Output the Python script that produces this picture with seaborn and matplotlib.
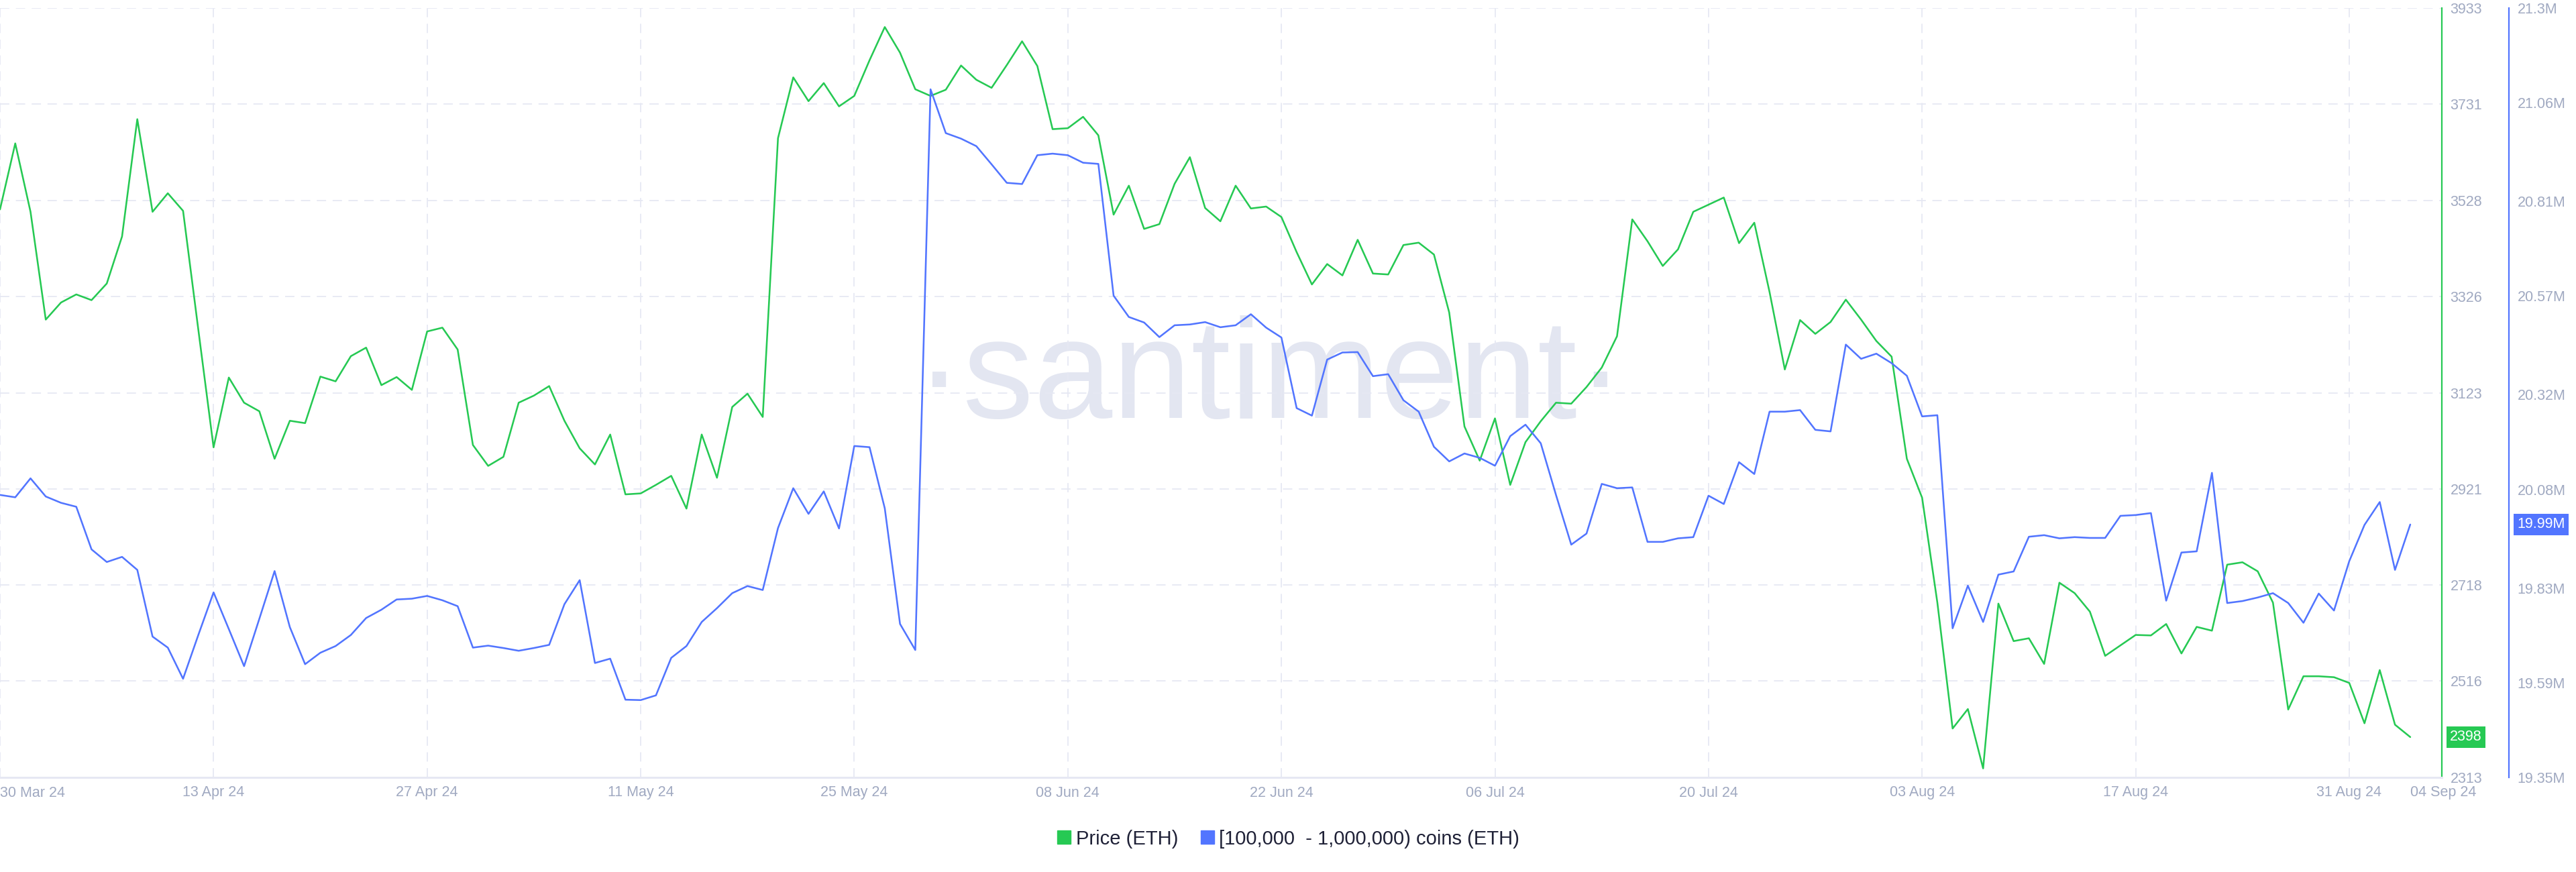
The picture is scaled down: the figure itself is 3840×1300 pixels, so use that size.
import numpy as np
import pandas as pd
import matplotlib
matplotlib.use("Agg")
import matplotlib.pyplot as plt
import matplotlib.dates as mdates
import matplotlib.ticker as mticker
import matplotlib.transforms as mtransforms
from matplotlib.lines import Line2D
import seaborn as sns

# ---------------- data ----------------
start_date = "2024-03-30"
series_names = ["Price (ETH)", "[100,000  - 1,000,000) coins (ETH)"]

price_eth = [
    3509, 3648, 3504, 3277, 3313, 3330, 3318, 3353, 3452, 3699,
    3504, 3543, 3506, 3256, 3008, 3155, 3102, 3084, 2984, 3064,
    3059, 3157, 3147, 3200, 3218, 3139, 3156, 3129, 3252, 3260,
    3214, 3013, 2969, 2988, 3102, 3117, 3137, 3064, 3006, 2972,
    3035, 2909, 2911, 2929, 2948, 2879, 3035, 2944, 3093, 3121,
    3072, 3659, 3787, 3737, 3775, 3726, 3748, 3823, 3893, 3839,
    3762, 3748, 3761, 3812, 3782, 3765, 3813, 3863, 3811, 3678,
    3680, 3704, 3665, 3498, 3559, 3468, 3478, 3563, 3619, 3512,
    3484, 3559, 3511, 3515, 3493, 3419, 3351, 3394, 3370, 3445,
    3374, 3372, 3434, 3439, 3414, 3292, 3052, 2980, 3069, 2929,
    3019, 3063, 3102, 3100, 3135, 3176, 3242, 3488, 3442, 3390,
    3425, 3504, 3519, 3534, 3438, 3481, 3335, 3172, 3276, 3247,
    3272, 3319, 3277, 3232, 3199, 2984, 2902, 2681, 2416, 2457,
    2332, 2679, 2600, 2606, 2552, 2723, 2701, 2662, 2569, 2591,
    2613, 2612, 2636, 2574, 2630, 2622, 2761, 2766, 2747, 2681,
    2456, 2526, 2526, 2524, 2512, 2427, 2539, 2424, 2398,
]

holders_m = [
    20.066, 20.060, 20.108, 20.062, 20.046, 20.036, 19.928, 19.896, 19.909, 19.876,
    19.707, 19.679, 19.600, 19.711, 19.819, 19.726, 19.632, 19.752, 19.873, 19.731,
    19.637, 19.666, 19.683, 19.711, 19.754, 19.775, 19.801, 19.803, 19.810, 19.799,
    19.784, 19.679, 19.684, 19.678, 19.671, 19.678, 19.686, 19.789, 19.850, 19.640,
    19.651, 19.547, 19.546, 19.558, 19.653, 19.683, 19.744, 19.779, 19.817, 19.835,
    19.825, 19.982, 20.083, 20.018, 20.075, 19.981, 20.190, 20.187, 20.032, 19.739,
    19.673, 21.094, 20.983, 20.969, 20.950, 20.904, 20.857, 20.854, 20.927, 20.931,
    20.927, 20.908, 20.905, 20.571, 20.517, 20.503, 20.466, 20.496, 20.498, 20.504,
    20.491, 20.496, 20.524, 20.490, 20.465, 20.286, 20.267, 20.409, 20.427, 20.428,
    20.367, 20.372, 20.306, 20.277, 20.188, 20.151, 20.171, 20.160, 20.140, 20.215,
    20.244, 20.197, 20.066, 19.940, 19.968, 20.094, 20.083, 20.085, 19.947, 19.947,
    19.956, 19.959, 20.064, 20.043, 20.149, 20.119, 20.277, 20.277, 20.281, 20.231,
    20.227, 20.447, 20.411, 20.424, 20.400, 20.368, 20.265, 20.268, 19.728, 19.836,
    19.744, 19.864, 19.872, 19.960, 19.964, 19.956, 19.959, 19.957, 19.957, 20.013,
    20.015, 20.020, 19.798, 19.920, 19.923, 20.122, 19.792, 19.797, 19.806, 19.817,
    19.792, 19.742, 19.816, 19.773, 19.898, 19.990, 20.048, 19.876, 19.991,
]

price_ticks = [2313, 2516, 2718, 2921, 3123, 3326, 3528, 3731, 3933]
holder_ticks = [19.35, 19.59, 19.83, 20.08, 20.32, 20.57, 20.81, 21.06, 21.3]
holder_tick_labels = ["19.35M", "19.59M", "19.83M", "20.08M", "20.32M",
                      "20.57M", "20.81M", "21.06M", "21.3M"]
date_ticks = ["2024-03-30", "2024-04-13", "2024-04-27", "2024-05-11",
              "2024-05-25", "2024-06-08", "2024-06-22", "2024-07-06",
              "2024-07-20", "2024-08-03", "2024-08-17", "2024-08-31"]
end_tick = "2024-09-04"
watermark = "\u00b7santiment\u00b7"

# ---------------- style ----------------
GREEN = "#26c953"
BLUE = "#5275ff"
GRID = "#e6e8f3"
TICKC = "#a0a9c1"
LEGC = "#1f2137"
TICKFS = 15.5

sns.set_theme(style="white")
plt.rcParams["font.family"] = ["Liberation Sans", "DejaVu Sans"]
plt.rcParams["lines.scale_dashes"] = False

dates = pd.date_range(start_date, periods=len(price_eth), freq="D")
df = pd.DataFrame({"date": dates, "price": price_eth, "holders": holders_m})

W, H = 3840, 1300
fig = plt.figure(figsize=(W / 100, H / 100), dpi=100)
left_px, right_px, top_px, bot_px = 0, 3640, 12, 1159
ax = fig.add_axes([left_px / W, 1 - bot_px / H,
                   (right_px - left_px) / W, (bot_px - top_px) / H])
ax.set_facecolor("white")

# watermark
ax.text(0.52, 0.515, watermark, transform=ax.transAxes, ha="center", va="center",
        fontsize=152, color="#e3e6f1", zorder=0.5)

sns.lineplot(data=df, x="date", y="price", ax=ax, color=GREEN, linewidth=1.85,
             zorder=3, legend=False)

ax2 = ax.twinx()
sns.lineplot(data=df, x="date", y="holders", ax=ax2, color=BLUE, linewidth=1.85,
             zorder=3, legend=False)

# x axis
x0 = pd.Timestamp(start_date)
ax.set_xlim(x0, x0 + pd.Timedelta(days=160.07))
ax.xaxis.set_major_locator(mticker.FixedLocator(mdates.date2num(pd.to_datetime(date_ticks))))
ax.xaxis.set_major_formatter(mdates.DateFormatter("%d %b %y"))
ax.xaxis.set_minor_locator(mticker.FixedLocator(mdates.date2num(pd.to_datetime([end_tick]))))
ax.xaxis.set_minor_formatter(mdates.DateFormatter("%d %b %y"))
ax.tick_params(axis="x", which="both", length=0, pad=9, labelsize=TICKFS, labelcolor=TICKC)

# price axis (right)
ax.set_ylim(price_ticks[0], price_ticks[-1])
ax.yaxis.tick_right()
ax.set_yticks(price_ticks)
ax.set_yticklabels([str(t) for t in price_ticks])
ax.tick_params(axis="y", length=0, pad=9, labelsize=TICKFS, labelcolor=TICKC,
               left=False, labelleft=False, right=True, labelright=True)

# holders axis
ax2.set_ylim(holder_ticks[0], holder_ticks[-1])
ax2.set_yticks(holder_ticks)
ax2.set_yticklabels(holder_tick_labels)
ax2.tick_params(axis="y", length=0, pad=9, labelsize=TICKFS, labelcolor=TICKC)
ax2.spines["right"].set_position(("axes", 1 + 100 / (right_px - left_px)))
for s in ["top", "left", "bottom"]:
    ax2.spines[s].set_visible(False)
ax2.spines["right"].set_color(BLUE)
ax2.spines["right"].set_linewidth(1.6)
ax2.set_xlabel("")
ax2.set_ylabel("")

# grid
ax.grid(True, which="major", axis="both", color=GRID, linewidth=1.3,
        linestyle=(0, (10, 7)))
ax.grid(False, which="minor")
ax.set_axisbelow(True)
ax.set_xlabel("")
ax.set_ylabel("")

for s in ["top", "left"]:
    ax.spines[s].set_visible(False)
ax.spines["right"].set_color(GREEN)
ax.spines["right"].set_linewidth(1.6)
ax.spines["bottom"].set_color(GRID)
ax.spines["bottom"].set_linewidth(2.2)

# alignment of the edge date labels
labs = ax.get_xticklabels()
if labs:
    labs[0].set_ha("left")
for lab in ax.xaxis.get_minorticklabels():
    lab.set_ha("left")

# last-value badges
tr1 = mtransforms.blended_transform_factory(ax.transAxes, ax.transData)
ax.text(1 + 12 / 3640, price_eth[-1], f"{price_eth[-1]:.0f}", transform=tr1,
        ha="left", va="center", fontsize=TICKFS, color="white", zorder=10,
        bbox=dict(boxstyle="square,pad=0.25", fc=GREEN, ec="none"), clip_on=False)
tr2 = mtransforms.blended_transform_factory(ax2.transAxes, ax2.transData)
ax2.text(1 + 112 / 3640, holders_m[-1], f"{holders_m[-1]:.2f}M", transform=tr2,
         ha="left", va="center", fontsize=TICKFS, color="white", zorder=10,
         bbox=dict(boxstyle="square,pad=0.25", fc=BLUE, ec="none"), clip_on=False)

# legend
handles = [Line2D([], [], marker="s", linestyle="none", markersize=14,
                  markerfacecolor=GREEN, markeredgecolor=GREEN),
           Line2D([], [], marker="s", linestyle="none", markersize=14,
                  markerfacecolor=BLUE, markeredgecolor=BLUE)]
fig.legend(handles, series_names, loc="center", bbox_to_anchor=(0.5, 0.038),
           ncol=2, frameon=False, fontsize=21, labelcolor=LEGC,
           handletextpad=0.2, columnspacing=1.1, handlelength=0.8)

fig.savefig("out.png", dpi=100, facecolor="white")
